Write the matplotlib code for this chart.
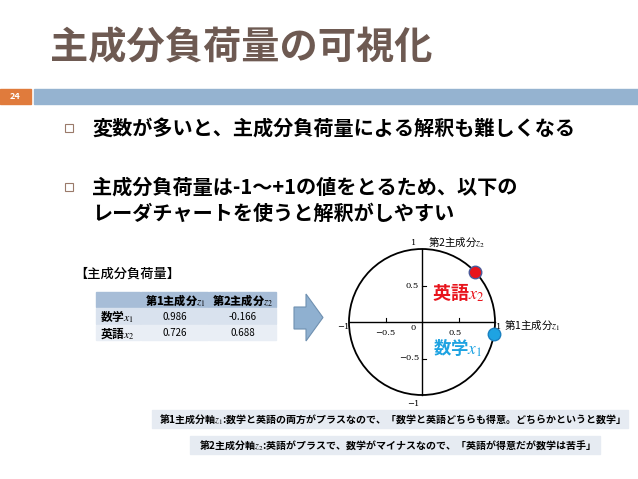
import matplotlib
matplotlib.use("Agg")
import matplotlib.pyplot as plt
from matplotlib.patches import Rectangle, Polygon, Circle

plt.rcParams['font.family'] = ['Noto Sans CJK JP', 'DejaVu Sans']
plt.rcParams['mathtext.fontset'] = 'stix'

# data
variables = ['数学$x_1$', '英語$x_2$']
pc1 = [0.986, 0.726]
pc2 = [-0.166, 0.688]
headers = ['第1主成分$z_1$', '第2主成分$z_2$']
point_colors = ['#1ea3e2', '#e8141c']
x_ticks = [-0.5, 0.5]
y_ticks = [-0.5, 0.5]

bullets = ['変数が多いと、主成分負荷量による解釈も難しくなる',
           '主成分負荷量は-1～+1の値をとるため、以下の',
           'レーダチャートを使うと解釈がしやすい']
notes = ['第1主成分軸$z_1$:数学と英語の両方がプラスなので、「数学と英語どちらも得意。どちらかというと数学」',
         '第2主成分軸$z_2$:英語がプラスで、数学がマイナスなので、「英語が得意だが数学は苦手」']

fig = plt.figure(figsize=(6.38, 4.79), dpi=100)
bg = fig.add_axes([0, 0, 1, 1])
bg.set_xlim(0, 638)
bg.set_ylim(479, 0)
bg.axis('off')

# title and header bar
bg.text(50, 48, '主成分負荷量の可視化', fontsize=27.5, color='#6e5a52',
        fontweight='bold', va='center', ha='left')
bg.add_patch(Rectangle((0, 89), 31, 15, color='#e07b3c'))
bg.text(15, 96.5, '24', fontsize=6.5, color='white', fontweight='bold',
        ha='center', va='center')
bg.add_patch(Rectangle((34, 89), 604, 15, color='#95b3d0'))

# bullets
for by in [128, 187]:
    bg.add_patch(Rectangle((65, by - 4.5), 8, 8, fill=False, ec='#9a7a6a', lw=0.8))
for by, txt in zip([128, 187, 213], bullets):
    bg.text(92, by, txt, fontsize=14.5, fontweight='bold', va='center', ha='left')

# loading table
bg.text(74, 274, '【主成分負荷量】', fontsize=9.5, fontweight='medium', va='center', ha='left')
col_x = [96, 141, 209, 277]
row_y = [292, 308, 325, 341]
row_fill = ['#a7bdd7', '#d9e2ee', '#e9eef5']
for r in range(3):
    for c in range(3):
        bg.add_patch(Rectangle((col_x[c], row_y[r]), col_x[c + 1] - col_x[c] - 1,
                               row_y[r + 1] - row_y[r] - 1, color=row_fill[r]))
for c, h in enumerate(headers):
    bg.text((col_x[c + 1] + col_x[c + 2]) / 2, (row_y[0] + row_y[1]) / 2, h,
            fontsize=8, fontweight='heavy', ha='center', va='center')
for r, (v, a, b) in enumerate(zip(variables, pc1, pc2)):
    yc = (row_y[r + 1] + row_y[r + 2]) / 2
    bg.text(100, yc, v, fontsize=8.5, fontweight='bold', ha='left', va='center')
    bg.text((col_x[1] + col_x[2]) / 2, yc, f'{a:.3f}', fontsize=7, ha='center', va='center')
    bg.text((col_x[2] + col_x[3]) / 2, yc, f'{b:.3f}', fontsize=7, ha='center', va='center')

# arrow
bg.add_patch(Polygon([(294, 307), (306, 307), (306, 294), (323, 317.5),
                      (306, 341), (306, 329), (294, 329)],
                     closed=True, fc='#8fb0d0', ec='#6f90b0', lw=0.8))

# notes
for (x0, x1, y0), txt in zip([(152, 628, 410), (190, 600, 436)], notes):
    bg.add_patch(Rectangle((x0, y0), x1 - x0, 18, color='#e6ebf2'))
    bg.text((x0 + x1) / 2, y0 + 9, txt, fontsize=7.2, fontweight='bold',
            ha='center', va='center')

# loading circle
W, H = 638, 479
cx, cy, r = 422, 322, 73
ax = fig.add_axes([(cx - r) / W, 1 - (cy + r) / H, 2 * r / W, 2 * r / H])
ax.set_xlim(-1, 1)
ax.set_ylim(-1, 1)
ax.axis('off')
ax.add_patch(Circle((0, 0), 1, fill=False, ec='black', lw=1.3, clip_on=False))
ax.plot([-1, 1], [0, 0], color='black', lw=1.0, clip_on=False)
ax.plot([0, 0], [-1, 1], color='black', lw=1.0, clip_on=False)
for t in x_ticks:
    ax.plot([t, t], [0, 0.06], color='black', lw=0.8)
for t in y_ticks:
    ax.plot([0, 0.06], [t, t], color='black', lw=0.8)

sf = dict(family='DejaVu Serif', fontsize=6, ha='center', va='center', clip_on=False, zorder=6)
ax.text(-1.0, -0.07, '\u22121', **{**sf, 'ha': 'right'})
ax.text(1.02, -0.07, '1', **{**sf, 'ha': 'left'})
ax.text(-0.12, -0.08, '0', **sf)
for t in x_ticks:
    ax.text(t - 0.05 if t > 0 else t, -0.15, f'{t:g}'.replace('-', '\u2212'), **sf)
for t in y_ticks:
    ax.text(-0.04, t, f'{t:g}'.replace('-', '\u2212'), **{**sf, 'ha': 'right'})
ax.text(-0.12, 1.08, '1', **sf)
ax.text(-0.12, -1.13, '\u22121', **sf)

ax.text(0.08, 1.09, '第2主成分$z_2$', fontsize=7.5, ha='left', va='center', clip_on=False)
ax.text(1.13, -0.04, '第1主成分$z_1$', fontsize=7.5, ha='left', va='center', clip_on=False)

for a, b, col in zip(pc1, pc2, point_colors):
    ax.plot(a, b, 'o', ms=9, mfc=col, mec='#4a5a9a' if col == '#e8141c' else '#1a80c0',
            mew=1.0, clip_on=False, zorder=5)
ax.text(0.14, 0.40, variables[1], fontsize=13, color=point_colors[1], fontweight='bold',
        ha='left', va='center', clip_on=False, zorder=7)
ax.text(0.15, -0.36, variables[0], fontsize=12.5, color=point_colors[0], fontweight='bold',
        ha='left', va='center', clip_on=False, zorder=7)

fig.savefig('out.png', dpi=100)
